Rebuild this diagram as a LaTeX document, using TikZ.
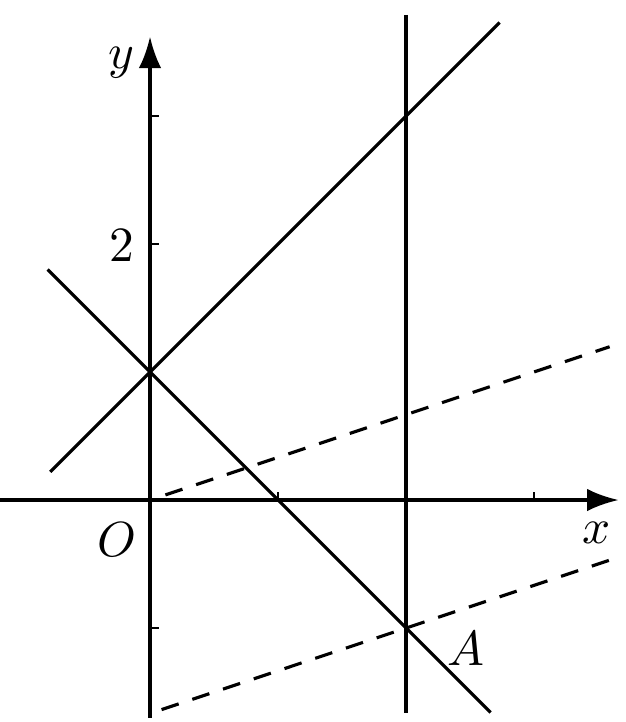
\documentclass[tikz,border=0pt]{standalone}
\usetikzlibrary{arrows.meta}
\begin{document}
\begin{tikzpicture}[x=1cm,y=1cm,
  axis/.style={line width=0.75pt,-{Latex[length=7pt,width=5pt]}},
  curve/.style={line width=0.7pt},
  dline/.style={line width=0.7pt,dashed,dash pattern=on 4pt off 3.2pt},
  tick/.style={line width=0.6pt},
  lbl/.style={font=\fontsize{11}{13}\selectfont}]
\useasboundingbox (-1.172,-1.734) rectangle (3.711,3.906);
% axes
\coordinate (xs) at (-1.172,0);
\coordinate (xe) at (3.66,0);
\coordinate (ys) at (0,-1.70);
\coordinate (ye) at (0,3.62);
\draw[axis] (xs) -- (xe);
\draw[axis] (ys) -- (ye);
% ticks
\coordinate (t1) at (1,0); \coordinate (t1e) at (1,0.06);
\coordinate (t3) at (3,0); \coordinate (t3e) at (3,0.06);
\coordinate (u2) at (0,2); \coordinate (u2e) at (0.07,2);
\coordinate (u3) at (0,3); \coordinate (u3e) at (0.07,3);
\coordinate (um) at (0,-1); \coordinate (ume) at (0.07,-1);
\draw[tick] (t1) -- (t1e);
\draw[tick] (t3) -- (t3e);
\draw[tick] (u2) -- (u2e);
\draw[tick] (u3) -- (u3e);
\draw[tick] (um) -- (ume);
% lines
\coordinate (p1) at (-0.78,0.22);
\coordinate (p2) at (2.73,3.73);
\draw[curve] (p1) -- (p2);
\coordinate (q1) at (-0.80,1.80);
\coordinate (q2) at (2.66,-1.66);
\draw[curve] (q1) -- (q2);
\coordinate (v1) at (2,3.79);
\coordinate (v2) at (2,-1.66);
\draw[curve] (v1) -- (v2);
% dashed
\coordinate (d1) at (0.12,0.04);
\coordinate (d2) at (3.59,1.197);
\draw[dline] (d1) -- (d2);
\coordinate (e1) at (0.09,-1.637);
\coordinate (e2) at (3.59,-0.47);
\draw[dline] (e1) -- (e2);
% labels
\node[lbl] (ylab) at (-0.22,3.42) {$y$};
\node[lbl] (two) at (-0.22,1.99) {$2$};
\node[lbl] (olab) at (-0.26,-0.31) {$O$};
\node[lbl] (xlab) at (3.49,-0.26) {$x$};
\node[lbl] (alab) at (2.47,-1.16) {$A$};
\end{tikzpicture}
\end{document}
